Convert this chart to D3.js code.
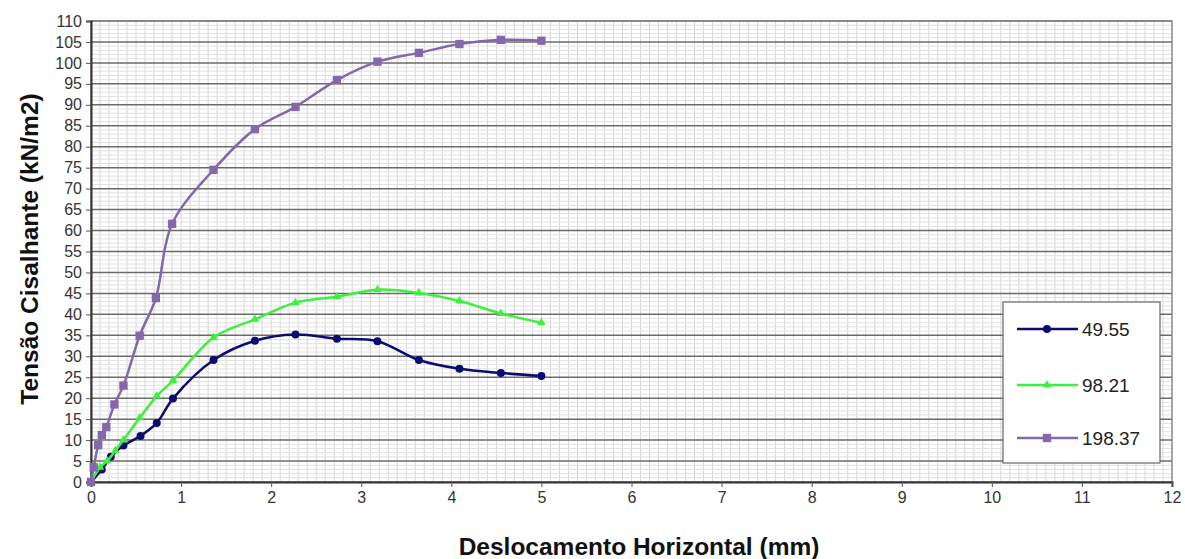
<!DOCTYPE html>
<meta charset="utf-8">
<style>
body { margin: 0; background: #fff; }
text { font-family: "Liberation Sans", Arial, sans-serif; }
.axis-title { font-size: 24.5px; font-weight: bold; fill: #111; }
.legend text { font-size: 19px; fill: #222; }
</style>
<svg width="1185" height="559"></svg>
<script src="https://d3js.org/d3.v7.min.js"></script>
<script>

// displacement (mm) for each series
const dispBlue = [0, 0.12, 0.22, 0.36, 0.55, 0.73, 0.91, 1.36, 1.82, 2.27, 2.73, 3.18, 3.64, 4.09, 4.55, 5.0];
const tauBlue = [0, 3, 6, 8.7, 11, 14.1, 19.9, 29.1, 33.7, 35.2, 34.2, 33.6, 29.1, 27, 26, 25.3];

const dispGreen = [0, 0.1, 0.18, 0.27, 0.36, 0.54, 0.73, 0.91, 1.36, 1.82, 2.27, 2.73, 3.18, 3.64, 4.09, 4.55, 5.0];
const tauGreen = [0, 3.5, 5, 7.5, 10, 15.3, 20.5, 24.2, 34.5, 38.8, 42.8, 44.2, 45.9, 45.1, 43.2, 40.2, 38];

const dispPurple = [0, 0.03, 0.08, 0.12, 0.17, 0.26, 0.36, 0.54, 0.72, 0.9, 1.36, 1.82, 2.27, 2.73, 3.18, 3.64, 4.09, 4.55, 5.0];
const tauPurple = [0, 3.5, 8.8, 11.2, 13.1, 18.5, 23, 34.9, 43.9, 61.6, 74.5, 84.2, 89.5, 95.9, 100.3, 102.4, 104.5, 105.5, 105.3];

const seriesNames = ['49.55', '98.21', '198.37'];
const xTicks = d3.range(0, 13, 1);
const yTicks = d3.range(0, 115, 5);

const series = [
  { name: seriesNames[0], x: dispBlue, y: tauBlue, color: '#0c0c70', marker: 'circle' },
  { name: seriesNames[1], x: dispGreen, y: tauGreen, color: '#3cf03c', marker: 'triangle' },
  { name: seriesNames[2], x: dispPurple, y: tauPurple, color: '#8468ac', marker: 'square' }
];

const margin = { left: 91, right: 13, top: 21, bottom: 77 };
const width = 1185, height = 559;

const svg = d3.select('svg');

const x = d3.scaleLinear().domain([0, 12]).range([margin.left, width - margin.right]);
const y = d3.scaleLinear().domain([0, 110]).range([height - margin.bottom, margin.top]);

// minor grid
const grid = svg.append('g');
grid.selectAll('.vminor')
  .data(d3.range(0.1, 12, 0.1))
  .enter().append('line')
    .attr('x1', d => x(d)).attr('x2', d => x(d))
    .attr('y1', y(0)).attr('y2', y(110))
    .attr('stroke', '#d6d6d6').attr('stroke-width', 1);
grid.selectAll('.hminor')
  .data(d3.range(1, 110, 1).filter(d => d % 5 !== 0))
  .enter().append('line')
    .attr('x1', x(0)).attr('x2', x(12))
    .attr('y1', d => y(d)).attr('y2', d => y(d))
    .attr('stroke', '#e2e2e2').attr('stroke-width', 1);
// major horizontal grid
grid.selectAll('.hmajor')
  .data(yTicks)
  .enter().append('line')
    .attr('x1', x(0)).attr('x2', x(12))
    .attr('y1', d => y(d)).attr('y2', d => y(d))
    .attr('stroke', '#6a6a6a').attr('stroke-width', 1.5);

// frame
svg.append('rect')
  .attr('x', x(0)).attr('y', y(110))
  .attr('width', x(12) - x(0)).attr('height', y(0) - y(110))
  .attr('fill', 'none').attr('stroke', '#888').attr('stroke-width', 1.5);

// axes
const xAxis = svg.append('g')
  .attr('transform', `translate(0,${y(0)})`)
  .call(d3.axisBottom(x).tickValues(xTicks).tickSize(5).tickPadding(5));
const yAxis = svg.append('g')
  .attr('transform', `translate(${x(0)},0)`)
  .call(d3.axisLeft(y).tickValues(yTicks).tickSize(5).tickPadding(4));
[xAxis, yAxis].forEach(a => {
  a.select('.domain').attr('stroke', '#333').attr('stroke-width', 2);
  a.selectAll('.tick line').attr('stroke', '#555');
  a.selectAll('.tick text')
    .attr('font-size', 16)
    .attr('font-family', '"Liberation Sans", Arial, sans-serif')
    .attr('fill', '#333');
});

svg.append('text')
  .attr('class', 'axis-title')
  .attr('x', 639).attr('y', 555)
  .attr('text-anchor', 'middle')
  .text('Deslocamento Horizontal (mm)');

svg.append('text')
  .attr('class', 'axis-title')
  .attr('transform', 'translate(38,249) rotate(-90)')
  .attr('text-anchor', 'middle')
  .text('Tensão Cisalhante (kN/m2)');

const line = d3.line()
  .x(d => x(d[0]))
  .y(d => y(d[1]))
  .curve(d3.curveCatmullRom.alpha(0.5));

const symbolFor = {
  circle: d3.symbol().type(d3.symbolCircle).size(50),
  triangle: d3.symbol().type(d3.symbolTriangle).size(32),
  square: d3.symbol().type(d3.symbolSquare).size(70)
};

series.forEach(s => {
  const pts = s.x.map((v, i) => [v, s.y[i]]);
  svg.append('path')
    .datum(pts)
    .attr('d', line)
    .attr('fill', 'none')
    .attr('stroke', s.color)
    .attr('stroke-width', 2.5);
  svg.append('g').selectAll('path')
    .data(pts)
    .enter().append('path')
      .attr('transform', d => `translate(${x(d[0])},${y(d[1])})`)
      .attr('d', symbolFor[s.marker])
      .attr('fill', s.color);
});

// legend
const legend = svg.append('g').attr('class', 'legend');
legend.append('rect')
  .attr('x', 1003).attr('y', 302)
  .attr('width', 157).attr('height', 161)
  .attr('fill', '#fff').attr('stroke', '#666').attr('stroke-width', 1.2);

const rowY = [329, 385, 438];
series.forEach((s, i) => {
  const g = legend.append('g').attr('transform', `translate(0,${rowY[i]})`);
  g.append('line')
    .attr('x1', 1017).attr('x2', 1078)
    .attr('stroke', s.color).attr('stroke-width', 2.5);
  g.append('path')
    .attr('transform', 'translate(1047,0)')
    .attr('d', symbolFor[s.marker])
    .attr('fill', s.color);
  g.append('text')
    .attr('x', 1082).attr('y', 0)
    .attr('dy', '0.35em')
    .text(s.name);
});

</script>
